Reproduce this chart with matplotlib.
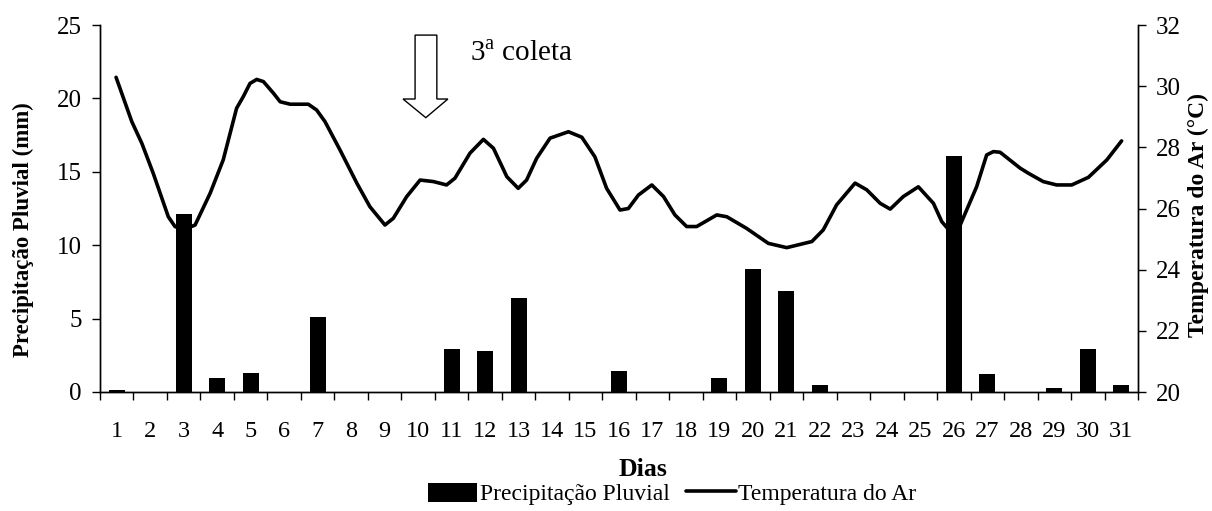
import numpy as np
import matplotlib.pyplot as plt
from matplotlib.patches import Polygon

plt.rcParams['font.family'] = ['Liberation Serif', 'DejaVu Serif']
plt.rcParams['mathtext.fontset'] = 'custom'
plt.rcParams['mathtext.rm'] = 'Liberation Serif'

# dados
dias = list(range(1, 32))
precip = [0.15, 0, 12.1, 0.95, 1.3, 0, 5.1, 0, 0, 0,
          2.9, 2.8, 6.4, 0, 0, 1.45, 0, 0, 0.95, 8.4,
          6.9, 0.45, 0, 0, 0, 16.1, 1.2, 0, 0.3, 2.9, 0.45]

# temperatura do ar (curva tracada do original, posicao em dias)
temp_dia = [0.98, 1.45, 1.75, 2.09, 2.54, 2.74, 2.99, 3.34, 3.79, 4.18,
            4.58, 4.78, 4.98, 5.18, 5.38, 5.68, 5.88, 6.18, 6.72, 6.97,
            7.22, 7.67, 8.17, 8.56, 9.01, 9.26, 9.66, 10.06, 10.46, 10.85,
            11.1, 11.55, 11.95, 12.25, 12.65, 12.99, 13.24, 13.54, 13.94, 14.49,
            14.89, 15.28, 15.63, 16.03, 16.28, 16.58, 16.98, 17.33, 17.67, 18.02,
            18.32, 18.92, 19.22, 19.81, 20.46, 21.01, 21.76, 22.1, 22.5, 23.05,
            23.4, 23.8, 24.1, 24.49, 24.94, 25.39, 25.64, 25.94, 26.19, 26.68,
            26.98, 27.18, 27.38, 27.98, 28.23, 28.67, 29.07, 29.52, 30.02, 30.57,
            31.01]
temp = [30.29, 28.84, 28.13, 27.15, 25.73, 25.41, 25.3, 25.46, 26.5, 27.59,
        29.28, 29.66, 30.09, 30.22, 30.15, 29.77, 29.49, 29.41, 29.41, 29.22,
        28.84, 27.91, 26.83, 26.06, 25.46, 25.68, 26.39, 26.93, 26.88, 26.77,
        26.99, 27.81, 28.26, 27.97, 27.04, 26.66, 26.93, 27.64, 28.3, 28.51,
        28.33, 27.69, 26.66, 25.95, 26.0, 26.44, 26.77, 26.39, 25.79, 25.41,
        25.41, 25.79, 25.73, 25.35, 24.86, 24.72, 24.92, 25.3, 26.12, 26.83,
        26.61, 26.17, 25.98, 26.39, 26.71, 26.17, 25.57, 25.19, 25.46, 26.71,
        27.75, 27.86, 27.84, 27.32, 27.15, 26.88, 26.77, 26.77, 27.02, 27.59,
        28.21]

fig = plt.figure(figsize=(12.12, 5.11), dpi=100)
ax = fig.add_axes([100/1212, 1 - 392/511, 1038/1212, 367/511])
ax2 = ax.twinx()

barras = ax.bar(dias, precip, width=0.48, color='black', label='Precipitação Pluvial')
linha, = ax2.plot(temp_dia, temp, color='black', lw=2.6, solid_joinstyle='round',
                  solid_capstyle='round', label='Temperatura do Ar')

ax.set_xlim(0.5, 31.5)
ax.set_ylim(0, 25)
ax2.set_ylim(20, 32)

ax.set_xticks(dias)
ax.set_xticklabels([str(d) for d in dias])
ax.set_xticks(np.arange(0.5, 32, 1), minor=True)
ax.tick_params(axis='x', which='major', length=0, pad=21, labelsize=17.5)
ax.tick_params(axis='x', which='minor', length=6, width=1, direction='out')
ax.set_yticks(range(0, 26, 5))
ax.tick_params(axis='y', length=6, width=1, direction='out', pad=7, labelsize=18)
ax2.set_yticks(range(20, 33, 2))
ax2.tick_params(axis='y', length=6, width=1, direction='out', pad=7, labelsize=18)

for a in (ax, ax2):
    a.spines['top'].set_visible(False)
    for s in ('left', 'right', 'bottom'):
        a.spines[s].set_linewidth(1)

fig.text(23/1212, 1 - 230/511, 'Precipitação Pluvial (mm)', rotation=90,
         ha='center', va='center', fontsize=16.5, fontweight='bold')
fig.text(1198/1212, 1 - 215/511, 'Temperatura do Ar (°C)', rotation=90,
         ha='center', va='center', fontsize=17, fontweight='bold')
fig.text(643/1212, 1 - 469/511, 'Dias', ha='center', va='center',
         fontsize=18.5, fontweight='bold')

fig.legend([barras, linha], ['Precipitação Pluvial', 'Temperatura do Ar'],
           loc='center', bbox_to_anchor=(672/1212, 1 - 494/511), ncol=2,
           frameon=False, fontsize=17, handlelength=2.1, handleheight=0.85,
           handletextpad=0.1, columnspacing=0.7, borderpad=0)

# seta "3a coleta"
seta = Polygon([(9.91, 31.67), (10.56, 31.67), (10.56, 29.58), (10.89, 29.58),
                (10.23, 28.97), (9.55, 29.58), (9.91, 29.58)],
               closed=True, facecolor='white', edgecolor='black', lw=1, clip_on=False)
ax2.add_patch(seta)
ax2.text(11.55, 30.82, '3$^{\\mathrm{a}}$ coleta', fontsize=21, ha='left', va='baseline')

fig.savefig('out.png', dpi=100)
